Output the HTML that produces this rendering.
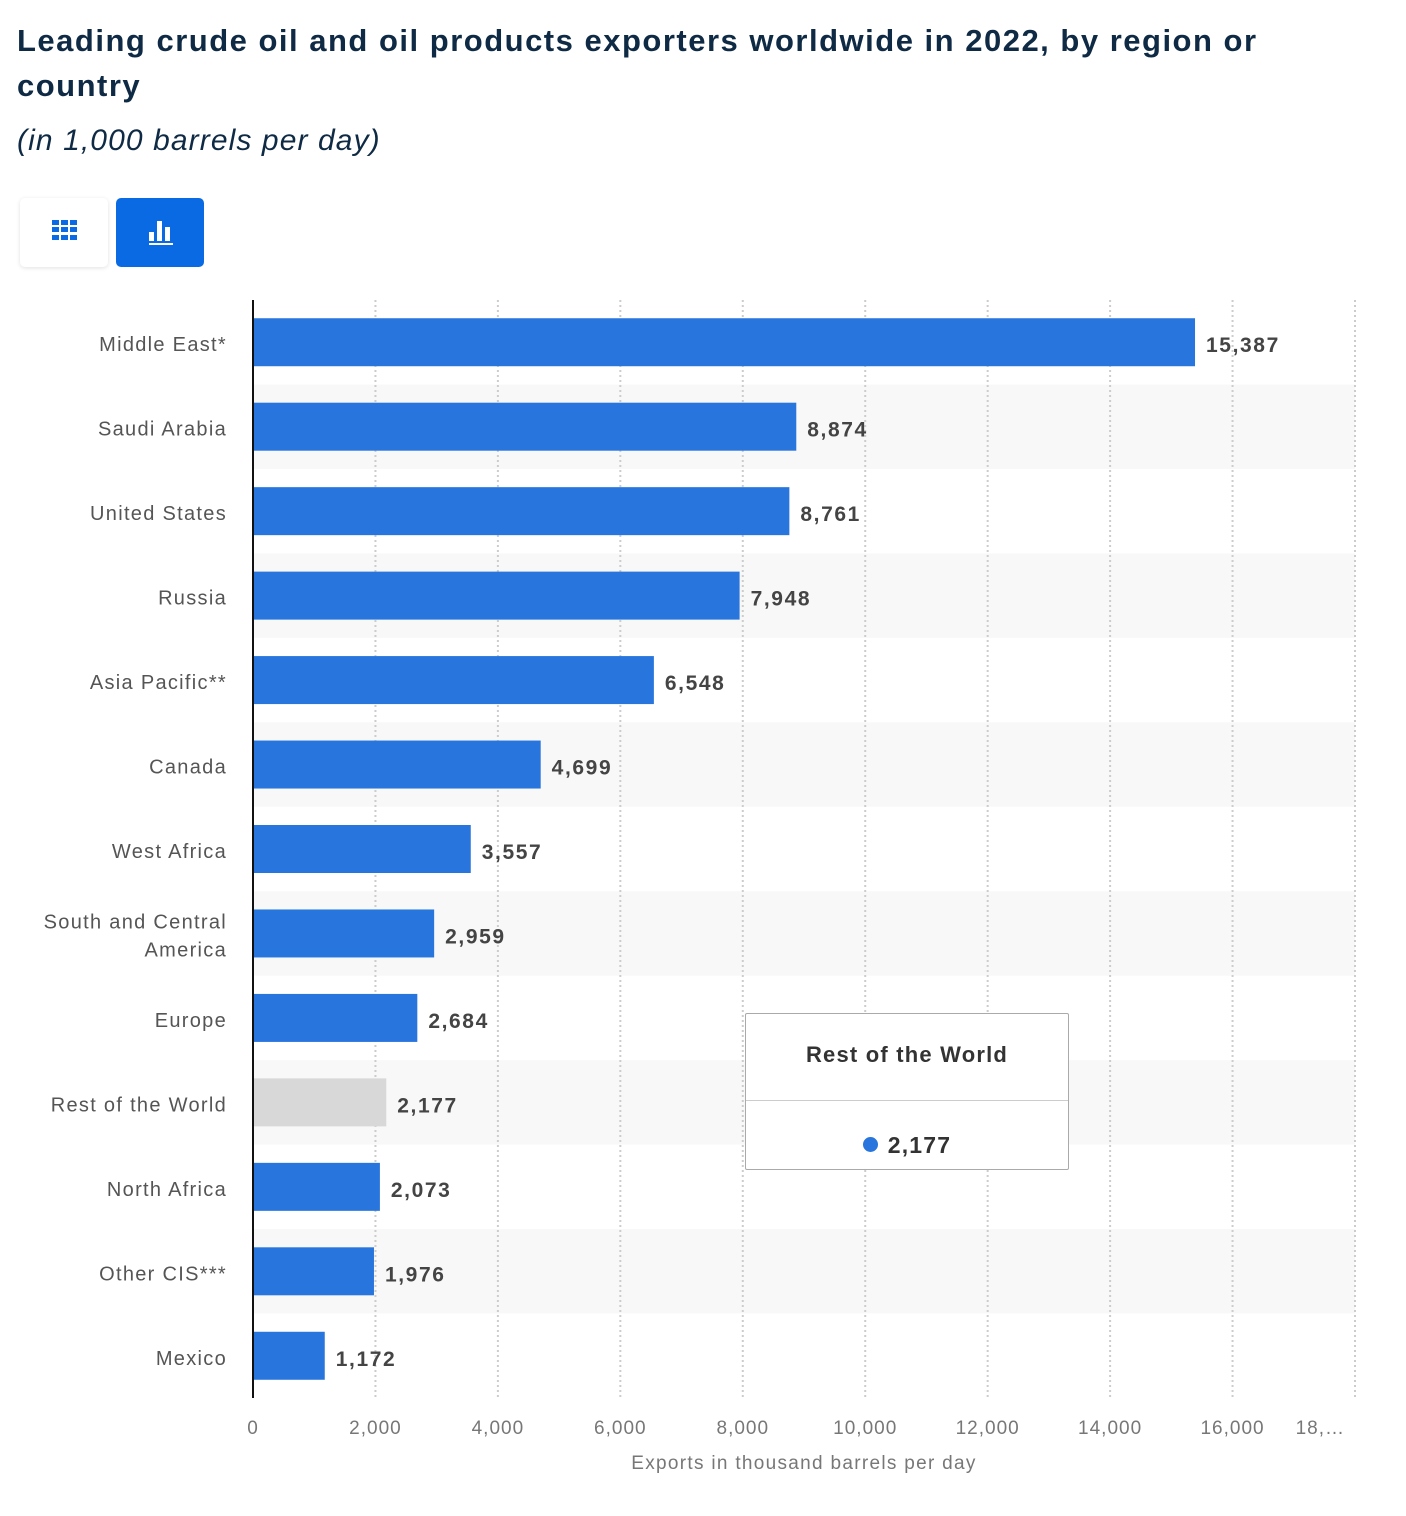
<!DOCTYPE html>
<html><head><meta charset="utf-8"><style>
body{margin:0;background:#fff;width:1406px;height:1516px;overflow:hidden;font-family:"Liberation Sans",sans-serif;position:relative}
.title{position:absolute;left:17px;top:18px;font-size:31px;font-weight:bold;color:#0f2a44;line-height:45px;margin:0;letter-spacing:1.5px}
.sub{position:absolute;left:17px;top:124px;font-size:30px;font-style:italic;color:#0f2a44;letter-spacing:1.1px}
.btn{position:absolute;top:198px;width:88px;height:69px;border-radius:5px}
</style></head><body>
<h1 class="title">Leading crude oil and oil products exporters worldwide in 2022, by region or<br>country</h1>
<div class="sub">(in 1,000 barrels per day)</div>
<div class="btn" style="left:20px;background:#fff;box-shadow:0 1px 4px rgba(0,0,0,.12)">
<svg width="88" height="69"><g fill="#0a6ae3"><rect x="32" y="22" width="7" height="5"/><rect x="41" y="22" width="7" height="5"/><rect x="50" y="22" width="7" height="5"/><rect x="32" y="29" width="7" height="5"/><rect x="41" y="29" width="7" height="5"/><rect x="50" y="29" width="7" height="5"/><rect x="32" y="37" width="7" height="5"/><rect x="41" y="37" width="7" height="5"/><rect x="50" y="37" width="7" height="5"/></g></svg></div>
<div class="btn" style="left:116px;background:#0a6ae3">
<svg width="88" height="69"><g fill="#fff"><rect x="33" y="34" width="5" height="9"/><rect x="41" y="23" width="5" height="20"/><rect x="49" y="29" width="5" height="14"/><rect x="33" y="45" width="24" height="2"/></g></svg></div>
<svg id="chart" width="1406" height="1516" style="position:absolute;left:0;top:0"></svg>
<div style="position:absolute;left:745px;top:1013px;width:322px;height:155px;border:1px solid #aaa;border-radius:2px;background:#fff">
<div style="position:absolute;left:0;right:0;top:28px;text-align:center;font-weight:bold;font-size:22px;color:#333;letter-spacing:1.2px">Rest of the World</div>
<div style="position:absolute;left:0;right:0;top:86px;border-top:1px solid #ccc"></div>
<div style="position:absolute;left:0;right:0;top:118px;text-align:center;font-weight:bold;font-size:23px;color:#333;letter-spacing:1.2px"><span style="display:inline-block;width:15px;height:15px;border-radius:50%;background:#2876dd;margin-right:10px;vertical-align:1px"></span>2,177</div>
</div>
<script>
const categories=["Middle East*","Saudi Arabia","United States","Russia","Asia Pacific**","Canada","West Africa","South and Central|America","Europe","Rest of the World","North Africa","Other CIS***","Mexico"];
const values=[15387,8874,8761,7948,6548,4699,3557,2959,2684,2177,2073,1976,1172];
const ticks=[0,2000,4000,6000,8000,10000,12000,14000,16000,18000];
const tickLabels=["0","2,000","4,000","6,000","8,000","10,000","12,000","14,000","16,000","18,…"];
const NS="http://www.w3.org/2000/svg",svg=document.getElementById("chart");
const x0=253,x1=1355,top0=300,bot=1398,band=(bot-top0)/categories.length;
const xs=v=>x0+(v-0)/18000*(x1-x0);
function mk(t,a,p){const e=document.createElementNS(NS,t);for(const k in a)e.setAttribute(k,a[k]);(p||svg).appendChild(e);return e;}
const fmt=v=>v.toLocaleString("en-US");
categories.forEach((c,i)=>{if(i%2){const r=mk("rect",{x:x0,y:top0+i*band,width:x1-x0,height:band,fill:"#f8f8f8"});

}});
ticks.forEach((t,i)=>{if(i>0){const l=mk("line",{x1:xs(t),x2:xs(t),y1:top0,y2:bot,stroke:"#ccc","stroke-width":2,"stroke-dasharray":"2,3"});

}
const last=i===ticks.length-1;
const tx=mk("text",{x:last?xs(t)-10:xs(t),y:1434,"text-anchor":last?"end":"middle","font-size":19,fill:"#777","font-family":"Liberation Sans","letter-spacing":1});tx.textContent=tickLabels[i];

});
categories.forEach((c,i)=>{const cy=top0+i*band+band/2;
const b=mk("rect",{x:x0,y:cy-24,width:xs(values[i])-x0,height:48,fill:c==="Rest of the World"?"#d8d8d8":"#2876dd"});


const v=mk("text",{x:xs(values[i])+11,y:cy+10,"font-size":21,"font-weight":"bold",fill:"#444","font-family":"Liberation Sans","letter-spacing":1.6});v.textContent=fmt(values[i]);


const parts=c.split("|");
parts.forEach((p,j)=>{const t=mk("text",{x:227,y:cy+9+(j-(parts.length-1)/2)*28,"text-anchor":"end","font-size":20,fill:"#555","font-family":"Liberation Sans","letter-spacing":1.3});t.textContent=p;

});});
const ax=mk("line",{x1:x0,x2:x0,y1:top0,y2:bot,stroke:"#111","stroke-width":2});


const at=mk("text",{x:804,y:1469,"text-anchor":"middle","font-size":19,fill:"#777","font-family":"Liberation Sans","letter-spacing":1.3});at.textContent="Exports in thousand barrels per day";


</script>
</body></html>
